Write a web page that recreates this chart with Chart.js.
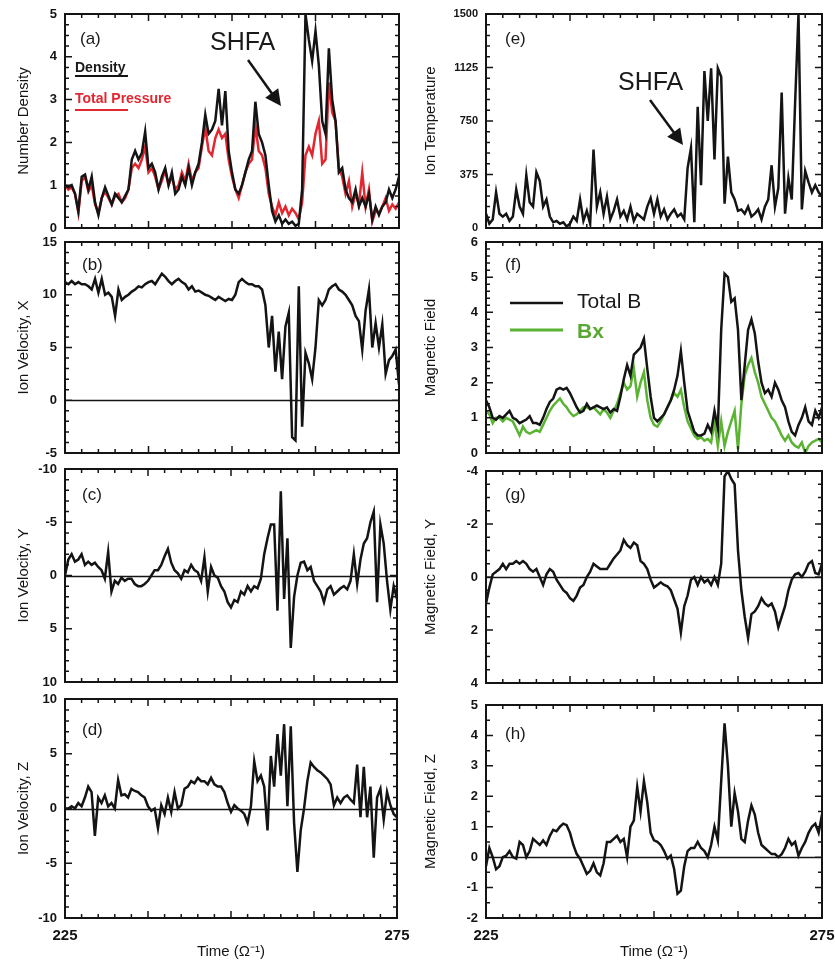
<!DOCTYPE html>
<html>
<head>
<meta charset="utf-8">
<script src="https://cdn.jsdelivr.net/npm/chart.js@4.4.1/dist/chart.umd.min.js"></script>
<style>
  body { margin: 0; background: #fff; width: 835px; height: 966px; position: relative; overflow: hidden;
         font-family: "Liberation Sans", Arial, Helvetica, sans-serif; color: #1a1a1a; }
  canvas { position: absolute; }
  .t { position: absolute; line-height: 1; white-space: nowrap; z-index: 5; }
  svg { position: absolute; left: 0; top: 0; z-index: 4; }
</style>
</head>
<body>
<canvas id="pa"></canvas>
<canvas id="pb"></canvas>
<canvas id="pc"></canvas>
<canvas id="pd"></canvas>
<canvas id="pe"></canvas>
<canvas id="pf"></canvas>
<canvas id="pg"></canvas>
<canvas id="ph"></canvas>

<div class="t" style="left:80px;top:30px;font-size:17px">(a)</div>
<div class="t" style="left:82px;top:256px;font-size:17px">(b)</div>
<div class="t" style="left:82px;top:486px;font-size:17px">(c)</div>
<div class="t" style="left:82px;top:721px;font-size:17px">(d)</div>
<div class="t" style="left:505px;top:30px;font-size:17px">(e)</div>
<div class="t" style="left:505px;top:256px;font-size:17px">(f)</div>
<div class="t" style="left:505px;top:486px;font-size:17px">(g)</div>
<div class="t" style="left:505px;top:725px;font-size:17px">(h)</div>

<div class="t" style="left:210px;top:29px;font-size:25px">SHFA</div>
<div class="t" style="left:618px;top:69px;font-size:25px">SHFA</div>

<div class="t" style="left:75px;top:60px;font-size:14px;font-weight:bold">Density</div>
<div class="t" style="left:75px;top:91px;font-size:14px;font-weight:bold;color:#e3262f">Total Pressure</div>
<div class="t" style="left:577px;top:290px;font-size:21px">Total B</div>
<div class="t" style="left:577px;top:320px;font-size:21px;font-weight:bold;color:#5aa832">Bx</div>

<svg width="835" height="966">
  <line x1="75" y1="76" x2="128" y2="76" stroke="#141414" stroke-width="2"/>
  <line x1="75" y1="110" x2="128" y2="110" stroke="#e3262f" stroke-width="2"/>
  <line x1="510" y1="303" x2="563" y2="303" stroke="#141414" stroke-width="2.5"/>
  <line x1="510" y1="330" x2="563" y2="330" stroke="#5ab332" stroke-width="3"/>
  <line x1="248" y1="60" x2="273" y2="95" stroke="#141414" stroke-width="2.5"/>
  <polygon points="281,106 265.2,97.7 278.2,88.3" fill="#141414"/>
  <line x1="650" y1="100" x2="675" y2="134" stroke="#141414" stroke-width="2.5"/>
  <polygon points="683,145 667.2,136.8 680.2,127.4" fill="#141414"/>
</svg>

<script>
// sample times, 225 to 275 in steps of 0.5
const times = Array.from({ length: 101 }, (_, i) => 225 + i * 0.5);

// (a) number density and total pressure
const density = [
  1.0, 0.95, 1.0, 0.8, 0.4, 1.2, 1.25, 0.9, 1.2, 0.6,
  0.3, 0.7, 0.95, 0.75, 0.55, 0.8, 0.7, 0.6, 0.75, 0.9,
  1.6, 1.8, 1.6, 1.75, 2.25, 1.4, 1.5, 1.3, 0.9, 1.2,
  1.4, 1.0, 1.3, 0.8, 0.9, 1.2, 1.0, 1.4, 1.0, 1.3,
  1.5, 2.0, 2.65, 2.2, 2.3, 2.5, 3.25, 2.4, 3.2, 1.8,
  1.3, 0.9, 0.8, 1.0, 1.3, 1.6, 1.8, 2.95, 2.2, 2.0,
  1.7, 1.0, 0.4, 0.15, 0.3, 0.1, 0.2, 0.1, 0.15, 0.05,
  0.1, 0.9, 5.0, 4.4, 3.9, 4.6, 3.8, 2.5, 2.2, 4.2,
  3.0, 2.5, 1.3, 1.4, 0.9, 0.7, 0.6, 0.9, 0.5, 0.7,
  0.5, 0.8, 0.2, 0.5, 0.3, 0.5, 0.6, 0.9, 0.7, 0.9,
  1.2
];
const pressure = [
  1.0, 0.9, 0.95, 0.8, 0.35, 1.1, 1.2, 0.85, 1.0, 0.55,
  0.35, 0.7, 0.85, 0.7, 0.55, 0.75, 0.8, 0.6, 0.7, 0.9,
  1.4, 1.5, 1.4, 1.6, 1.9, 1.3, 1.4, 1.2, 0.9, 1.1,
  1.35, 1.0, 1.2, 0.9, 1.0, 1.3, 1.1, 1.5, 1.1, 1.3,
  1.4, 1.9, 2.35, 1.8, 1.7, 2.1, 2.3, 2.1, 2.2, 1.6,
  1.2, 0.9, 0.7, 1.0, 1.3, 1.5, 1.6, 2.4, 1.8, 1.7,
  1.4, 0.8, 0.5, 0.3, 0.6, 0.35, 0.5, 0.3, 0.45, 0.35,
  0.2, 0.6, 1.7, 1.9, 1.7, 2.2, 2.5, 1.5, 1.6, 3.4,
  2.7, 2.5, 1.4, 1.2, 0.8, 1.1, 0.5, 0.8, 0.55, 1.3,
  0.5, 0.9, 0.15, 0.4, 0.35, 0.5, 0.7, 0.4, 0.55, 0.45,
  0.6
];

// (b)-(d) ion velocity components
const velX = [
  11.2, 11.0, 11.3, 11.0, 11.2, 11.0, 11.0, 10.8, 10.5, 11.5,
  10.2, 11.5, 10.0, 10.2, 9.8, 8.0, 10.5, 9.5, 9.8, 10.0,
  10.3, 10.5, 10.8, 10.7, 11.0, 11.2, 11.3, 11.0, 11.5, 12.0,
  11.7, 11.3, 11.0, 11.3, 11.5, 11.2, 11.0, 10.5, 10.8, 10.3,
  10.4, 10.2, 10.0, 9.9, 9.7, 9.5, 9.8, 9.6, 9.4, 9.6,
  9.5, 10.0, 11.2, 11.5, 11.2, 11.0, 11.0, 10.8, 10.8, 10.5,
  9.0, 5.0, 8.0, 2.7, 6.5, 2.0, 7.0, 8.3, -3.5, -3.8,
  10.8, -2.5, 4.5, 3.5, 2.0, 5.0, 9.5, 9.0, 9.5, 10.5,
  10.8, 11.0, 10.5, 10.3, 10.0, 9.5, 9.0, 8.0, 7.5, 4.8,
  8.5, 10.5, 5.0, 7.3, 5.0, 7.2, 2.5, 3.8, 4.2, 4.8,
  1.5
];
const velY = [
  0, -1.5, -2.0, -1.3, -1.5, -2.0, -1.0, -1.3, -1.0, -1.2,
  -0.8, -0.5, 0.3, -2.2, 1.5, 0.5, 0.8, 0.2, 0.5, 0.3,
  0.3, 0.8, 1.0, 1.0, 0.8, 0.5, 0, -0.5, -0.5, -1.0,
  -1.8, -2.5, -1.2, -0.5, -0.2, 0.3, -0.5, -0.3, -1.0, -0.5,
  -0.3, 0.5, -1.7, 1.5, -0.8, 0, 0.2, 1.0, 1.5, 2.5,
  3.0, 2.3, 2.5, 1.5, 1.8, 1.0, 1.5, 1.0, 1.2, 0.3,
  -2.0, -3.5, -4.8, -4.8, 3.3, -7.9, 2.2, -3.5, 6.8, 2.0,
  0, -1.2, -1.3, -0.5, -0.8, 0.5, 1.0, 1.5, 2.5, 1.3,
  1.0, 1.8, 1.5, 1.2, 1.0, 1.3, 0.5, -2.0, 0.8, -1.5,
  -3.0, -3.5, -5.0, -6.0, 2.5, -4.8, -3.0, 0.5, 3.2, 1.0,
  2.2
];
const velZ = [
  0, 0, 0.2, 0, 0.5, 0.2, 1.0, 2.0, 1.5, -2.5,
  1.0, 0.5, 1.2, 0.2, 0.5, 0, 2.6, 1.2, 1.3, 1.0,
  1.8, 1.6, 1.5, 1.2, 1.0, 0.2, -0.2, 0, -1.8, 0.3,
  -0.5, 1.0, -0.3, 1.5, 0, 0.3, 1.8, 2.0, 2.5, 2.3,
  2.8, 2.5, 2.5, 2.2, 2.8, 2.2, 2.0, 2.0, 1.5, 0.5,
  -0.3, 0.3, 0, -0.2, -0.5, -1.3, 0.2, 4.3, 2.5, 3.0,
  2.0, -2.0, 4.8, 2.0, 6.8, 3.0, 7.7, 0.2, 7.5, -1.3,
  -5.8, -2.0, 0, 2.5, 4.2, 3.8, 3.5, 3.3, 3.0, 2.7,
  2.2, 0.3, 1.0, 0.5, 1.0, 1.2, 0.8, 0.5, 4.0, -0.8,
  3.8, -0.8, 2.0, -4.5, 1.0, 1.8, -1.0, 1.5, 0.3, -0.5,
  -0.8
];

// (e) ion temperature
const ionTemp = [
  100, 30, 60, 250, 100, 80, 100, 50, 80, 270,
  150, 100, 370, 180, 150, 390, 330, 150, 200, 80,
  40, 50, 30, 40, 10, 30, 80, 50, 200, 50,
  120, 30, 550, 150, 250, 100, 220, 60, 120, 200,
  80, 120, 60, 150, 50, 100, 80, 60, 150, 210,
  100, 200, 80, 130, 60, 100, 130, 80, 100, 60,
  420, 560, 40, 850, 300, 1100, 750, 1120, 480, 1120,
  1060, 170, 500, 250, 200, 120, 130, 100, 150, 80,
  100, 130, 60, 150, 200, 440, 150, 280, 950, 100,
  350, 200, 880, 1500, 130, 400, 320, 250, 300, 250,
  220
];

// (f)-(h) magnetic field
const totalB = [
  1.5, 1.3, 1.0, 0.95, 1.05, 1.0, 1.1, 1.2, 1.0, 0.95,
  0.85, 0.9, 0.95, 1.05, 0.85, 0.85, 0.8, 1.0, 1.25, 1.45,
  1.55, 1.8, 1.85, 1.8, 1.85, 1.7, 1.5, 1.3, 1.15, 1.2,
  1.4, 1.25, 1.3, 1.35, 1.3, 1.25, 1.3, 1.15, 1.25, 1.2,
  1.6, 2.1, 2.5, 2.2, 2.8, 2.9, 3.0, 3.25, 2.4, 1.6,
  1.0, 0.9, 1.0, 1.1, 1.3, 1.5, 1.8, 2.2, 2.9, 2.0,
  1.2, 0.9, 0.6, 0.5, 0.5, 0.55, 0.8, 0.6, 1.2, 0.7,
  3.5, 5.1, 5.0, 4.3, 4.4, 3.5, 1.5, 2.5, 3.5, 3.8,
  3.4, 2.6, 2.0, 1.7, 1.8, 1.6, 2.0, 1.8, 1.5, 1.3,
  0.9, 0.6, 0.5, 0.8, 1.0, 1.3, 0.9, 0.8, 1.2, 1.0,
  1.3
];
const bX = [
  1.2, 1.1, 0.85, 1.0, 1.0, 0.9, 1.0, 0.95, 0.9, 0.7,
  0.5, 0.75, 0.6, 0.55, 0.6, 0.65, 0.6, 0.8, 1.0, 1.2,
  1.35, 1.45, 1.55, 1.4, 1.3, 1.15, 1.05, 1.1, 1.2, 1.3,
  1.3, 1.25, 1.3, 1.2, 1.1, 1.25, 1.15, 1.0, 1.2, 1.4,
  1.7, 2.0, 1.8, 1.9, 2.4, 1.6, 2.0, 2.3, 1.5, 1.0,
  0.8, 0.75, 0.9, 1.1, 1.3, 1.5, 1.7, 1.6, 1.8, 1.3,
  0.9, 0.7, 0.5, 0.4, 0.45, 0.35, 0.4, 0.3, 0.9, 0.2,
  0.9, 0.2, 0.6, 0.9, 1.2, 0.1, 1.4, 2.2, 2.5, 2.7,
  2.3, 2.0, 1.6, 1.4, 1.2, 1.0, 0.9, 0.7, 0.5, 0.35,
  0.5, 0.3, 0.2, 0.15, 0.3, 0.0, 0.2, 0.3, 0.35, 0.4,
  0.3
];
const bY = [
  1.0, 0.4, -0.1, -0.2, -0.3, -0.5, -0.3, -0.5, -0.5, -0.6,
  -0.5, -0.6, -0.5, -0.3, -0.2, -0.3, 0.0, 0.3, -0.1, -0.3,
  -0.2, 0.1, 0.3, 0.5, 0.6, 0.8, 0.9, 0.7, 0.4, 0.3,
  0, -0.2, -0.5, -0.4, -0.3, -0.3, -0.3, -0.5, -0.7, -0.85,
  -1.0, -1.4, -1.2, -1.1, -1.3, -1.2, -0.6, -0.5, -0.3, 0.1,
  0.4, 0.3, 0.2, 0.3, 0.35, 0.5, 0.85, 1.2, 2.1, 1.1,
  0.7, 0.1, 0, 0.3, 0, 0.2, 0.1, 0.3, 0, 0.3,
  -0.5, -3.8, -4.0, -3.7, -3.5, -1.0, 0.5, 1.5, 2.3, 1.4,
  1.3, 1.1, 0.8, 1.0, 1.1, 1.0, 1.3, 1.9, 1.5, 1.1,
  0.5, 0.1, -0.1, -0.15, 0, -0.2, -0.5, -0.6, -0.15, -0.1,
  -0.5
];
const bZ = [
  -0.3, 0.3, 0, -0.4, -0.3, 0, 0.05, 0.2, 0, -0.05,
  0.5, 0.4, 0, 0.2, 0.6, 0.5, 0.4, 0.55, 0.4, 0.7,
  0.9, 0.85, 1.0, 1.1, 1.05, 0.8, 0.4, 0.1, -0.05, -0.3,
  -0.55, -0.45, -0.2, -0.5, -0.6, -0.2, 0.5, 0.5, 0.6, 0.7,
  0.5, 0.6, 0, 1.0, 1.2, 2.3, 1.5, 2.5, 1.8, 0.8,
  0.55, 0.5, 0.4, 0.2, -0.05, 0.05, -0.4, -1.2, -1.1, -0.3,
  0.2, 0.3, 0.3, 0.5, 0.3, 0.2, 0.0, 0.4, 1.0, 0.55,
  2.5, 4.4, 3.0, 1.0, 2.1, 1.5, 0.6, 0.5, 1.2, 1.7,
  1.4, 0.8, 0.4, 0.3, 0.2, 0.1, 0.1, 0, 0.1, 0.3,
  0.6, 0.4, 0.5, 0.05, 0.3, 0.5, 0.8, 1.0, 1.1, 0.8,
  1.4
];

const INK = '#141414';
const RED = '#e3262f';
const GREEN = '#5ab332';

// box, inward tick marks and optional zero line
const framePlugin = {
  id: 'frame',
  afterDatasetsDraw(chart, args, o) {
    const { ctx, chartArea: a, scales: { x, y } } = chart;
    ctx.save();
    ctx.strokeStyle = INK;
    ctx.lineWidth = 1.5;
    ctx.beginPath();
    if (o.zero) {
      const py = Math.round(y.getPixelForValue(0)) + 0.5;
      ctx.moveTo(a.left, py); ctx.lineTo(a.right, py);
    }
    for (let i = 0; i <= 20; i++) {
      const px = x.getPixelForValue(225 + i * 2.5);
      const len = i % 5 === 0 ? 7 : 4;
      ctx.moveTo(px, a.top); ctx.lineTo(px, a.top + len);
      ctx.moveTo(px, a.bottom); ctx.lineTo(px, a.bottom - len);
    }
    const lo = Math.min(y.min, y.max);
    const n = Math.round(Math.abs(y.max - y.min) / o.minor);
    for (let i = 0; i <= n; i++) {
      const v = lo + i * o.minor;
      const py = y.getPixelForValue(v);
      const r = v / o.major;
      const len = Math.abs(r - Math.round(r)) < 1e-6 ? 7 : 4;
      ctx.moveTo(a.left, py); ctx.lineTo(a.left + len, py);
      ctx.moveTo(a.right, py); ctx.lineTo(a.right - len, py);
    }
    ctx.stroke();
    ctx.lineWidth = 2;
    ctx.strokeRect(a.left, a.top, a.right - a.left, a.bottom - a.top);
    ctx.restore();
  }
};

function makePanel(id, p) {
  const cv = document.getElementById(id);
  cv.width = p.w;
  cv.height = p.h;
  cv.style.left = p.left + 'px';
  cv.style.top = p.top + 'px';
  return new Chart(cv, {
    type: 'line',
    data: {
      labels: times,
      datasets: p.series.map(s => ({
        data: s.data, borderColor: s.color, borderWidth: 2.5,
        pointRadius: 0, tension: 0, fill: false
      }))
    },
    options: {
      responsive: false,
      animation: false,
      events: [],
      layout: { padding: { top: 10, bottom: p.bottom ? 0 : 10, left: 0, right: p.padR } },
      plugins: { legend: { display: false }, tooltip: { enabled: false }, frame: p.frame },
      scales: {
        x: {
          type: 'linear', min: 225, max: 275, display: !!p.bottom,
          grid: { display: false, drawTicks: false }, border: { display: false },
          afterBuildTicks: s => { s.ticks = [{ value: 225 }, { value: 275 }]; },
          afterFit: s => { s.height = p.bottom ? 48 : 0; s.paddingLeft = 0; s.paddingRight = 0; },
          ticks: { padding: 9, maxRotation: 0, autoSkip: false, color: INK,
                   font: { family: 'Liberation Sans', size: 15, weight: 'bold' } },
          title: { display: true, text: 'Time (Ω⁻¹)', color: INK,
                   font: { family: 'Liberation Sans', size: 15 }, padding: { top: 0, bottom: 5 } }
        },
        y: {
          min: p.y.min, max: p.y.max, reverse: !!p.y.reverse,
          grid: { display: false, drawTicks: false }, border: { display: false },
          afterFit: s => { s.width = p.yw; s.paddingTop = 0; s.paddingBottom = 0; },
          ticks: { stepSize: p.y.step, padding: 8, color: INK, callback: v => String(v),
                   font: { family: 'Liberation Sans', size: p.y.font || 13, weight: 'bold' } },
          title: { display: true, text: p.y.title, color: INK,
                   font: { family: 'Liberation Sans', size: 15 }, padding: { top: p.tpad, bottom: 0 } }
        }
      }
    },
    plugins: [framePlugin]
  });
}

const L = { left: 0, w: 410, yw: 65, tpad: 15 };
const R = { left: 415, w: 420, yw: 71, tpad: 7, padR: 13 };

makePanel('pa', { ...L, padR: 11, top: 4, h: 234,
  series: [{ data: density, color: INK }, { data: pressure, color: RED }],
  y: { min: 0, max: 5, step: 1, title: 'Number Density' }, frame: { major: 1, minor: 0.25 } });
makePanel('pb', { ...L, padR: 11, top: 232, h: 231,
  series: [{ data: velX, color: INK }],
  y: { min: -5, max: 15, step: 5, title: 'Ion Velocity, X' }, frame: { major: 5, minor: 1, zero: true } });
makePanel('pc', { ...L, padR: 13, top: 459, h: 233,
  series: [{ data: velY, color: INK }],
  y: { min: -10, max: 10, step: 5, reverse: true, title: 'Ion Velocity, Y' }, frame: { major: 5, minor: 1, zero: true } });
makePanel('pd', { ...L, padR: 13, top: 689, h: 277, bottom: true,
  series: [{ data: velZ, color: INK }],
  y: { min: -10, max: 10, step: 5, title: 'Ion Velocity, Z' }, frame: { major: 5, minor: 1, zero: true } });

makePanel('pe', { ...R, top: 4, h: 234,
  series: [{ data: ionTemp, color: INK }],
  y: { min: 0, max: 1500, step: 375, font: 11, title: 'Ion Temperature' }, frame: { major: 375, minor: 75 } });
makePanel('pf', { ...R, top: 232, h: 231,
  series: [{ data: totalB, color: INK }, { data: bX, color: GREEN }],
  y: { min: 0, max: 6, step: 1, title: 'Magnetic Field' }, frame: { major: 1, minor: 0.2 } });
makePanel('pg', { ...R, top: 461, h: 232,
  series: [{ data: bY, color: INK }],
  y: { min: -4, max: 4, step: 2, reverse: true, title: 'Magnetic Field, Y' }, frame: { major: 2, minor: 0.5, zero: true } });
makePanel('ph', { ...R, top: 695, h: 271, bottom: true,
  series: [{ data: bZ, color: INK }],
  y: { min: -2, max: 5, step: 1, title: 'Magnetic Field, Z' }, frame: { major: 1, minor: 0.5, zero: true } });
</script>
</body>
</html>
